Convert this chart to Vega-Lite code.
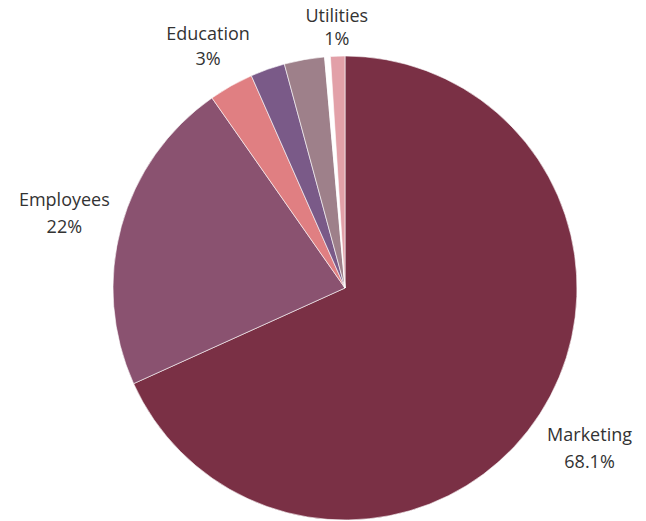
{
  "$schema": "https://vega.github.io/schema/vega-lite/v6.json",
  "width": 600,
  "height": 460,
  "autosize": "none",
  "padding": {"left": 45, "top": 58, "right": 1, "bottom": 3},
  "background": "white",
  "view": {"stroke": null},
  "data": {"values": [
    {"category": "Marketing", "value": 68.1, "order": 1, "label": "Marketing\n68.1%", "grp": "a"},
    {"category": "Employees", "value": 22, "order": 2, "label": "Employees\n22%", "grp": "a"},
    {"category": "Education", "value": 3.1, "order": 3, "label": "Education\n3%", "grp": "b"},
    {"category": "Other A", "value": 2.4, "order": 4, "label": "", "grp": "n"},
    {"category": "Other B", "value": 2.8, "order": 5, "label": "", "grp": "n"},
    {"category": "Other C", "value": 0.4, "order": 6, "label": "", "grp": "n"},
    {"category": "Utilities", "value": 1, "order": 7, "label": "Utilities\n1%", "grp": "c"}
  ]},
  "encoding": {
    "theta": {"field": "value", "type": "quantitative", "stack": true},
    "order": {"field": "order", "type": "quantitative"}
  },
  "layer": [
    {
      "mark": {"type": "arc", "radius": 232, "stroke": "white", "strokeWidth": 0.6},
      "encoding": {
        "color": {"field": "category", "type": "nominal", "legend": null,
          "scale": {"domain": ["Marketing", "Employees", "Education", "Other A", "Other B", "Other C", "Utilities"],
                    "range": ["#7a3045", "#8a5270", "#e07f82", "#7a5a88", "#9e808a", "#ffffff", "#e2a0a8"]}}
      }
    },
    {
      "mark": {"type": "text", "radius": 291, "dy": -10, "font": "Open Sans", "fontSize": 18, "color": "#333333", "lineBreak": "\n", "lineHeight": 27},
      "encoding": {"text": {"condition": {"test": "datum.grp == 'a'", "field": "label"}, "value": ""}}
    },
    {
      "mark": {"type": "text", "radius": 279, "dy": -10, "font": "Open Sans", "fontSize": 18, "color": "#333333", "lineBreak": "\n", "lineHeight": 25},
      "encoding": {"text": {"condition": {"test": "datum.grp == 'b'", "field": "label"}, "value": ""}}
    },
    {
      "mark": {"type": "text", "radius": 261, "dy": -10, "font": "Open Sans", "fontSize": 18, "color": "#333333", "lineBreak": "\n", "lineHeight": 23},
      "encoding": {"text": {"condition": {"test": "datum.grp == 'c'", "field": "label"}, "value": ""}}
    }
  ]
}
